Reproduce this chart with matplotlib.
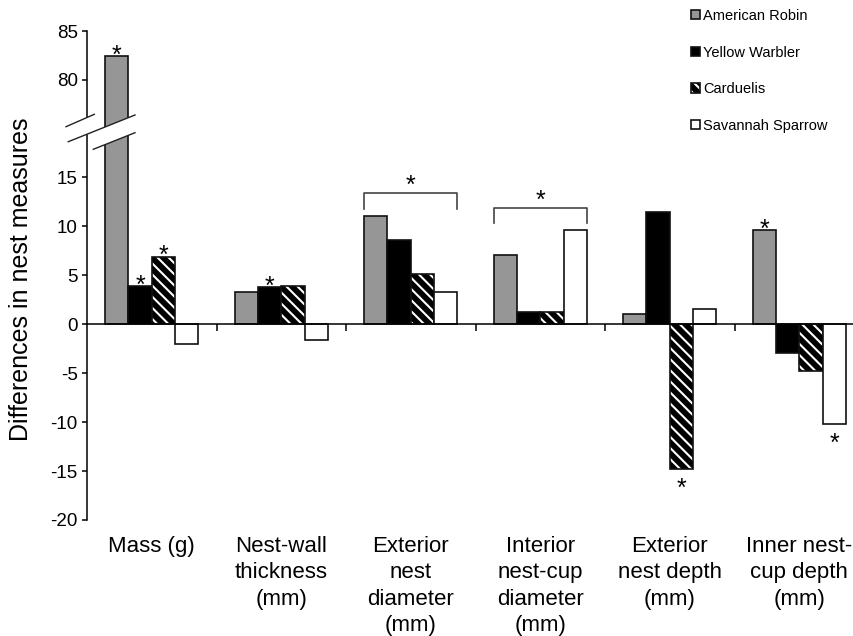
import numpy as np
import matplotlib
matplotlib.use("Agg")
import matplotlib.pyplot as plt
from matplotlib.patches import Polygon
from matplotlib.transforms import blended_transform_factory

plt.rcParams['font.family'] = ['Liberation Sans', 'DejaVu Sans']
plt.rcParams['hatch.linewidth'] = 1.5

# ---- data ----
categories = ["Mass (g)", "Nest-wall\nthickness\n(mm)", "Exterior\nnest\ndiameter\n(mm)",
              "Interior\nnest-cup\ndiameter\n(mm)", "Exterior\nnest depth\n(mm)",
              "Inner nest-\ncup depth\n(mm)"]
species = ["American Robin", "Yellow Warbler", "Carduelis", "Savannah Sparrow"]
robin = [82.4, 3.3, 11.0, 7.1, 1.0, 9.6]
warbler = [3.9, 3.8, 8.6, 1.2, 11.5, -2.9]
carduelis = [6.9, 3.9, 5.1, 1.2, -14.8, -4.8]
sparrow = [-2.0, -1.6, 3.3, 9.6, 1.5, -10.2]
# (category, species) pairs marked with *
sig_bars = [(0, 0), (0, 1), (0, 2), (1, 1), (4, 2), (5, 0), (5, 3)]
# whole-group brackets
bracket_groups = [2, 3]
bracket_tops = [13.4, 11.9]
yticks = [-20, -15, -10, -5, 0, 5, 10, 15, 80, 85]

# broken axis: 19.5..76.4 squeezed into a small gap
LO, HI, GAP = 19.5, 76.4, 1.84


def fwd(y):
    y = np.asarray(y, dtype=float)
    return np.where(y <= LO, y,
                    np.where(y >= HI, y - HI + LO + GAP, LO + (y - LO) * GAP / (HI - LO)))


def inv(v):
    v = np.asarray(v, dtype=float)
    return np.where(v <= LO, v,
                    np.where(v >= LO + GAP, v - LO - GAP + HI, LO + (v - LO) * (HI - LO) / GAP))


W, H = 854, 636
fig = plt.figure(figsize=(W / 100, H / 100), dpi=100)
ax = fig.add_axes([87 / W, (H - 520) / H, 767 / W, 489 / H])
ax.set_yscale('function', functions=(fwd, inv))

x = np.arange(len(categories))
w = 0.18
series = [robin, warbler, carduelis, sparrow]
offs = [-1.5, -0.5, 0.5, 1.5]

b_robin = ax.bar(x + offs[0] * w, robin, w, color='#969696', edgecolor='#111111', lw=1.2)
b_warb = ax.bar(x + offs[1] * w, warbler, w, color='black', edgecolor='#111111', lw=1.2)
b_card = ax.bar(x + offs[2] * w, carduelis, w, color='black', edgecolor='white',
                hatch='\\\\\\', lw=0)
b_card_edge = ax.bar(x + offs[2] * w, carduelis, w, fill=False, edgecolor='#111111', lw=1.2)
b_sav = ax.bar(x + offs[3] * w, sparrow, w, color='white', edgecolor='#111111', lw=1.2)

ax.set_xlim(-0.5, -0.5 + 767 / 129.5)
ax.set_ylim(-20, 85)
ax.set_yticks(yticks)
ax.set_yticklabels([str(t) for t in yticks], fontsize=13.5)
ax.tick_params(axis='y', direction='out', length=3.6, width=1.1, pad=3)

ax.spines['top'].set_visible(False)
ax.spines['right'].set_visible(False)
ax.spines['left'].set_linewidth(1.1)
ax.spines['bottom'].set_linewidth(1.1)
ax.spines['bottom'].set_position(('data', 0))
ax.set_xticks([])
ax.set_xticks(x[:-1] + 0.5, minor=True)
ax.tick_params(axis='x', which='minor', direction='out', length=5, width=1.1)

# category labels under the plot
tr = blended_transform_factory(ax.transData, ax.transAxes)
for i, lab in enumerate(categories):
    ax.text(i, -0.033, lab, transform=tr, ha='center', va='top',
            fontsize=16, linespacing=1.33)

ax.set_ylabel("Differences in nest measures", fontsize=18)
ax.yaxis.set_label_coords(-0.0704, 0.493)

# significance stars
for g, s in sig_bars:
    val = series[s][g]
    xp = g + offs[s] * w
    dy = -4.7 if val > 0 else -19.2
    ax.annotate('*', (xp, val), xytext=(0, dy), textcoords='offset points',
                ha='center', va='baseline', fontsize=18)

for g, top in zip(bracket_groups, bracket_tops):
    x0, x1 = g - 2 * w, g + 2 * w
    ax.plot([x0, x0, x1, x1], [top - 1.6, top, top, top - 1.6], color='#444444', lw=1.2)
    ax.annotate('*', (g, top), xytext=(0, -0.2), textcoords='offset points',
                ha='center', va='baseline', fontsize=18)


# axis break marks (pixel positions of the figure -> axes fraction)
def px(xp, yp):
    return ((xp - 87) / 767, (520 - yp) / 489)


def line_y(p0, p1, xq):
    return p0[1] + (p1[1] - p0[1]) * (xq - p0[0]) / (p1[0] - p0[0])


A = ((66, 126.7), (94.3, 114.3))
B = ((68.3, 141.7), (135, 115))
C = ((93.3, 149.3), (135, 132.7))
for (xa, xb), top, bot in [((78, 97), A, B), ((100, 131), B, C)]:
    pts = [px(xa, line_y(*top, xa)), px(xb, line_y(*top, xb)),
           px(xb, line_y(*bot, xb)), px(xa, line_y(*bot, xa))]
    ax.add_patch(Polygon(pts, closed=True, transform=ax.transAxes, facecolor='white',
                         edgecolor='none', clip_on=False, zorder=5))
for seg in (A, B, C):
    p0, p1 = px(*seg[0]), px(*seg[1])
    ax.plot([p0[0], p1[0]], [p0[1], p1[1]], transform=ax.transAxes, color='#222222',
            lw=1.0, clip_on=False, zorder=6)

fig.legend([b_robin, b_warb, (b_card, b_card_edge), b_sav], species, loc='upper left',
           bbox_to_anchor=(691 / W, 1 - 9 / H), frameon=False, fontsize=10.5,
           handlelength=0.6, handleheight=0.6, handletextpad=0.25,
           labelspacing=1.55, borderpad=0, borderaxespad=0)

fig.savefig("out.png", dpi=100)
